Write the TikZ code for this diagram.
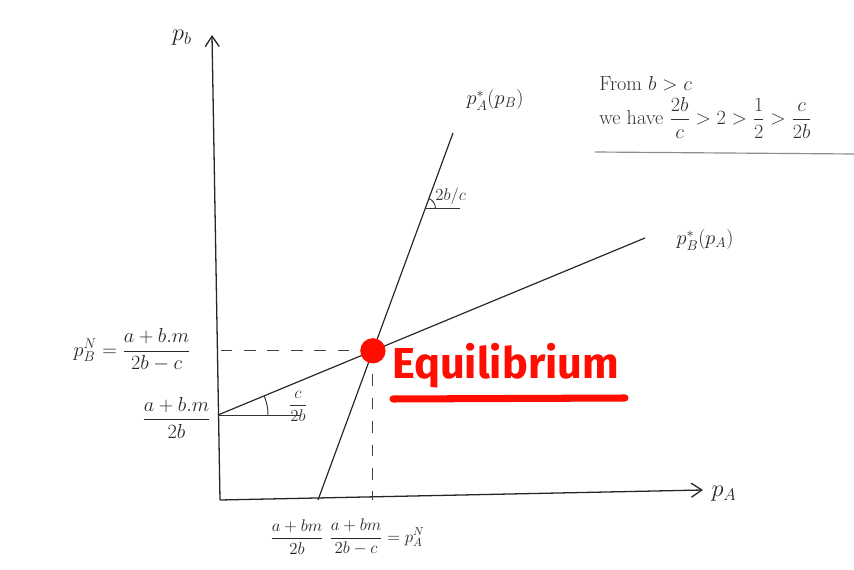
\documentclass[tikz,border=0pt]{standalone}
\usepackage{amsmath}
\usepackage{fontspec}
\newfontfamily\eqfont{Fira Sans}
\usetikzlibrary{arrows.meta,calc}
\tikzset{
  axis/.style={line width=1.1pt, draw=black!85, -{Straight Barb[length=9pt,width=12pt]}},
  curve/.style={line width=1pt, draw=black!85},
  guide/.style={line width=0.8pt, draw=black!75, dash pattern=on 10pt off 10pt},
  thin/.style={line width=0.8pt, draw=black!80},
  lbl/.style={text=black!85, inner sep=1pt, font=\LARGE},
  blbl/.style={text=black!85, inner sep=1pt, font=\Large},
  note/.style={text=black!80, inner sep=1pt, font=\Large}
}
\begin{document}
\begin{tikzpicture}[x=0.03cm,y=-0.03cm]
\useasboundingbox (0,0) rectangle (854,570);
\fill[white] (0,0) rectangle (854,570);
% axes
\coordinate (O) at (220,500);
\coordinate (Ytop) at (212,35);
\coordinate (Xend) at (703,490);
\draw[axis] (O) -- (Ytop);
\draw[axis] (O) -- (Xend);
\node[lbl, font=\huge] (pb) at (182,38) {$p_b$};
\node[lbl, font=\huge] (pa) at (724,494) {$p_A$};
% reaction lines
\coordinate (B1) at (218,415);
\coordinate (B2) at (645,238);
\coordinate (A1) at (318,500);
\coordinate (A2) at (453,133);
\draw[curve] (B1) -- (B2);
\draw[curve] (A1) -- (A2);
\coordinate (E) at (intersection of B1--B2 and A1--A2);
\node[lbl] (labA) at (495,100) {$p_A^{*}(p_B)$};
\node[lbl] (labB) at (705,240) {$p_B^{*}(p_A)$};
% guides
\coordinate (Ey) at (O |- E);
\coordinate (Ex) at (E |- O);
\draw[guide] (E) -- (Ey);
\draw[guide] (E) -- (Ex);
% angle c/2b
\coordinate (H1) at (300,415);
\draw[thin] (B1) -- (H1);
\draw[thin] ($(B1)+(1.5cm,0)$) arc[start angle=0,end angle=22.5,radius=1.5cm];
\node[note] (c2b) at (298,406) {$\dfrac{c}{2b}$};
% angle 2b/c
\coordinate (T1) at (425.4,208);
\coordinate (T2) at (460,208);
\draw[thin] (T1) -- (T2);
\draw[thin] ($(T1)+(0.3cm,0)$) arc[start angle=0,end angle=69.8,radius=0.3cm];
\node[note, anchor=west] (b2c) at (434,196) {$2b/c$};
% equilibrium
\fill[red!90!orange] (E) circle[radius=0.38cm];
\node[text=red!90!orange, font=\eqfont\bfseries\fontsize{37}{40}\selectfont, anchor=west] (eq) at (388,366) {Equilibrium};
\draw[red!90!orange, line width=6pt, line cap=round] (393,399) -- (625,398);
% left labels
\node[lbl, anchor=east] (pBN) at (192,350) {$p_B^{N}=\dfrac{a+b.m}{2b-c}$};
\node[lbl, anchor=east] (pB0) at (212,418) {$\dfrac{a+b.m}{2b}$};
% bottom labels
\node[blbl] (pA0) at (297,537) {$\dfrac{a+bm}{2b}$};
\node[blbl, anchor=west] (pAN) at (328,537) {$\dfrac{a+bm}{2b-c}=p_A^{N}$};
% note
\node[note, font=\LARGE, anchor=west] (n1) at (598,84) {From $b>c$};
\node[note, font=\LARGE, anchor=west] (n2) at (598,118) {we have $\dfrac{2b}{c}>2>\dfrac{1}{2}>\dfrac{c}{2b}$};
\coordinate (U1) at (595,152);
\coordinate (U2) at (854,154);
\draw[line width=1pt, draw=black!45] (U1) -- (U2);
\end{tikzpicture}
\end{document}
